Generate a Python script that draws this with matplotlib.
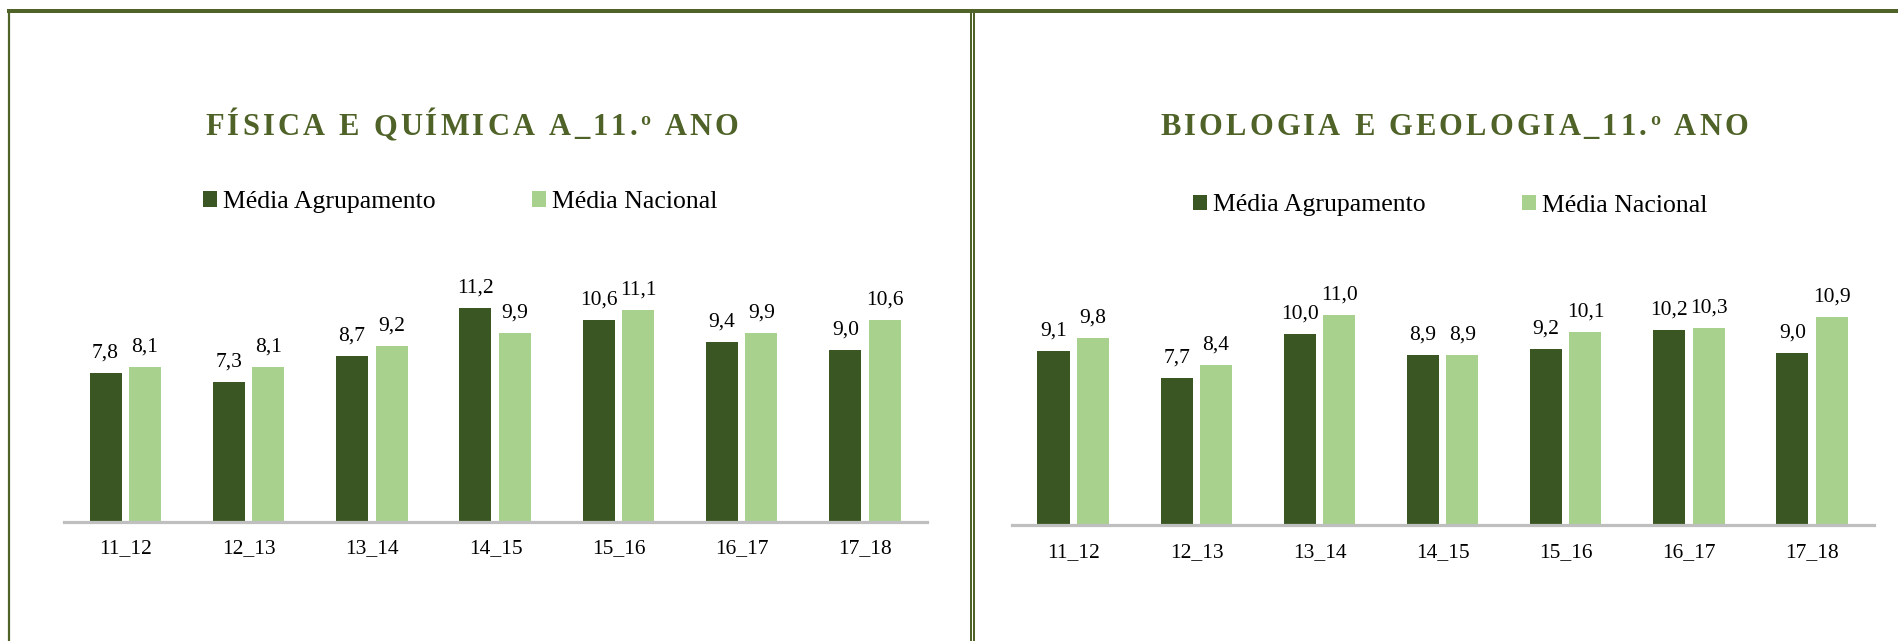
import matplotlib
matplotlib.use("Agg")
import matplotlib.pyplot as plt
import numpy as np
from matplotlib.lines import Line2D
from matplotlib.font_manager import FontProperties, findfont, get_font

# ---------------- data ----------------
categories = ["11_12", "12_13", "13_14", "14_15", "15_16", "16_17", "17_18"]
series_names = ["Média Agrupamento", "Média Nacional"]

title_left = "FÍSICA E QUÍMICA A_11.º ANO"
fq_agrupamento = [7.8, 7.3, 8.7, 11.2, 10.6, 9.4, 9.0]
fq_nacional = [8.1, 8.1, 9.2, 9.9, 11.1, 9.9, 10.6]

title_right = "BIOLOGIA E GEOLOGIA_11.º ANO"
bg_agrupamento = [9.1, 7.7, 10.0, 8.9, 9.2, 10.2, 9.0]
bg_nacional = [9.8, 8.4, 11.0, 8.9, 10.1, 10.3, 10.9]

# ---------------- style ----------------
W, H = 1899, 641
DPI = 100
FONT = "Liberation Serif"
DARK = "#3A5723"
LIGHT = "#A9D18E"
OLIVE = "#4F6228"
AXIS_GRAY = "#BFBFBF"

plt.rcParams["font.family"] = [FONT, "DejaVu Serif"]

fig = plt.figure(figsize=(W / DPI, H / DPI), dpi=DPI)
fig.patch.set_facecolor("white")


def fx(px):
    return px / W


def fy(py):
    return 1 - py / H


def tracked_title(cx, base, s, size, track, color):
    fp = FontProperties(family=FONT, weight="bold", size=size)
    font = get_font(findfont(fp))
    font.set_size(size, DPI)
    advs = [font.load_char(ord(ch)).linearHoriAdvance / 65536 for ch in s]
    total = sum(advs) + track * (len(s) - 1)
    x = cx - total / 2
    for ch, a in zip(s, advs):
        fig.text(fx(x), fy(base), ch, fontproperties=fp, color=color,
                 ha="left", va="baseline")
        x += a + track


def panel(rect_px, ppu, agr, nac, title, title_cx, legend_xy):
    left, right, base = rect_px
    ymax = 14
    height_px = ymax * ppu
    ax = fig.add_axes([fx(left), (H - base) / H, (right - left) / W, height_px / H])
    ax.set_facecolor("none")
    x = np.arange(len(categories))
    w = 0.26
    b1 = ax.bar(x - 0.163, agr, w, color=DARK, zorder=2, label=series_names[0])
    b2 = ax.bar(x + 0.157, nac, w, color=LIGHT, zorder=2, label=series_names[1])
    fmt = lambda v: f"{v:.1f}".replace(".", ",")
    for bars, vals in ((b1, agr), (b2, nac)):
        ax.bar_label(bars, labels=[fmt(v) for v in vals], padding=7.5,
                     fontsize=15.5, color="black", family=FONT)
    ax.set_xlim(-0.5, len(categories) - 0.5)
    ax.set_ylim(0, ymax)
    ax.set_xticks(x)
    ax.set_xticklabels(categories, fontsize=15.5, family=FONT)
    ax.tick_params(axis="x", length=0, pad=13)
    ax.set_yticks([])
    for s in ("top", "left", "right"):
        ax.spines[s].set_visible(False)
    ax.spines["bottom"].set_color(AXIS_GRAY)
    ax.spines["bottom"].set_linewidth(2.3)
    ax.spines["bottom"].set_zorder(3)

    ax.legend(handles=[b1, b2], labels=series_names, loc="center left",
              bbox_to_anchor=(fx(legend_xy[0]), fy(legend_xy[1])),
              bbox_transform=fig.transFigure, ncol=2, frameon=False,
              prop=FontProperties(family=FONT, size=18.5),
              handlelength=0.53, handleheight=0.55, handletextpad=0.25,
              columnspacing=3.75, borderpad=0, borderaxespad=0)

    tracked_title(title_cx, 135, title, 22, 3.2, OLIVE)
    return ax


panel((64, 927, 521.5), 19.05, fq_agrupamento, fq_nacional, title_left, 472, (203, 202))
panel((1012, 1874, 525), 19.1, bg_agrupamento, bg_nacional, title_right, 1454, (1193, 205.5))

# ---------------- page borders ----------------
lw_px = lambda p: p * 72 / DPI
fig.add_artist(Line2D([fx(7), fx(W)], [fy(11), fy(11)], color=OLIVE, lw=lw_px(4),
                      solid_capstyle="butt"))
fig.add_artist(Line2D([fx(9), fx(9)], [fy(11), fy(H)], color=OLIVE, lw=lw_px(2.2),
                      solid_capstyle="butt"))
for xx in (971, 974):
    fig.add_artist(Line2D([fx(xx), fx(xx)], [fy(11), fy(H)], color=OLIVE,
                          lw=lw_px(2), solid_capstyle="butt"))

fig.savefig("out.png", dpi=DPI, facecolor="white")
